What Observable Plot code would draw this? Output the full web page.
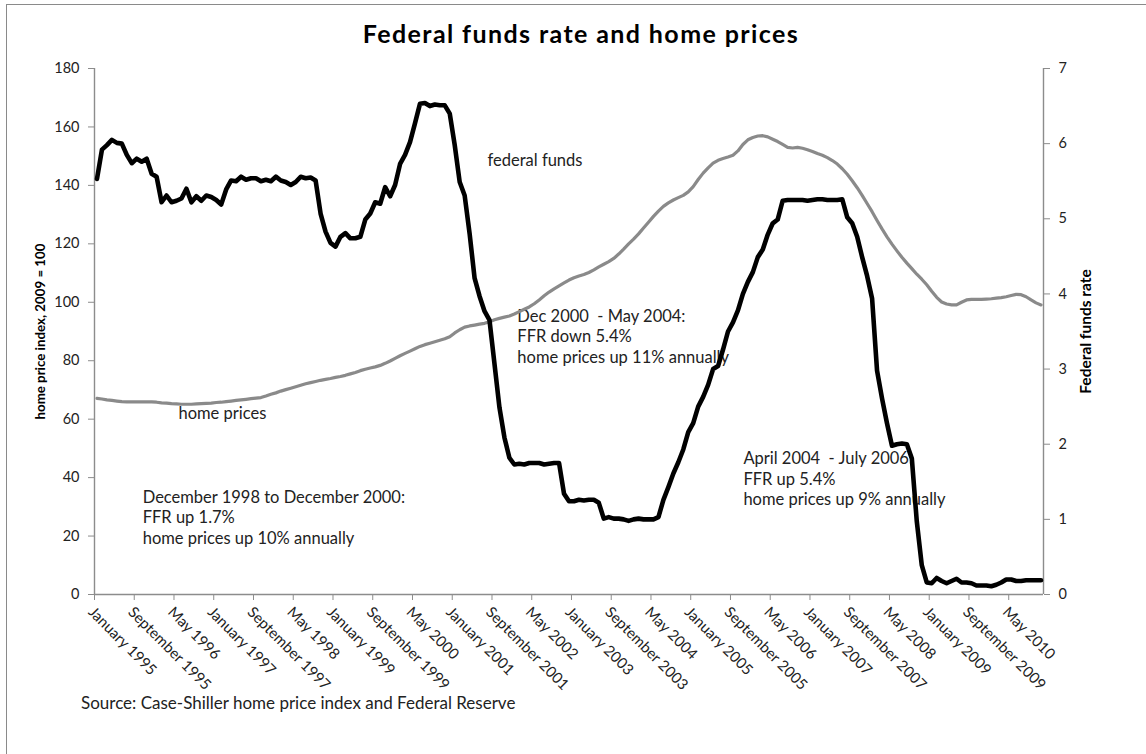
<!DOCTYPE html>
<html><head><meta charset="utf-8">
<script src="https://cdn.jsdelivr.net/npm/d3@7"></script>
<script src="https://cdn.jsdelivr.net/npm/@observablehq/plot@0.6"></script>
<style>
html,body{margin:0;padding:0;background:#fff;}
#wrap{position:relative;width:1146px;height:754px;overflow:hidden;font-family:Lato,"Open Sans",sans-serif;}
#frame{position:absolute;left:6px;top:4px;width:1200px;height:800px;border-top:1px solid #8a8a8a;border-left:1px solid #8a8a8a;}
#title{position:absolute;left:0;width:1162px;top:18px;text-align:center;font-weight:bold;font-size:25px;letter-spacing:1.4px;color:#000;line-height:30px;}
#caption{position:absolute;left:81px;top:693px;font-size:17px;color:#222;line-height:20px;}
#chart{position:absolute;left:0;top:0;}
</style></head>
<body>
<div id="wrap">
<div id="frame"></div>
<div id="chart"></div>
<div id="title">Federal funds rate and home prices</div>
<div id="caption">Source: Case-Shiller home price index and Federal Reserve</div>
</div>
<script>
// Monthly values, January 1995 – November 2010
const homePrices = [
67.1,66.9,66.6,66.4,66.2,66.0,65.9,65.9,65.9,65.9,65.9,65.9,
65.8,65.6,65.5,65.3,65.2,65.1,65.1,65.1,65.2,65.3,65.4,65.5,
65.7,65.8,66.0,66.2,66.4,66.6,66.8,67.0,67.2,67.4,67.9,68.5,
69.0,69.6,70.1,70.6,71.1,71.6,72.1,72.5,72.9,73.3,73.6,73.9,
74.3,74.6,75.0,75.5,76.0,76.6,77.1,77.5,77.9,78.4,79.1,79.9,
80.8,81.7,82.5,83.3,84.1,84.9,85.5,86.0,86.5,87.0,87.5,88.2,
89.5,90.6,91.5,91.9,92.2,92.5,92.8,93.3,94.0,94.5,94.9,95.3,
96.0,96.8,97.6,98.4,99.5,100.8,102.2,103.5,104.6,105.6,106.6,107.6,
108.4,109.0,109.5,110.2,111.1,112.1,113.0,113.9,115.0,116.5,118.2,120.0,
121.6,123.4,125.4,127.4,129.4,131.2,132.8,134.0,135.0,135.8,136.6,137.8,
139.6,142.0,144.2,146.0,147.6,148.6,149.2,149.7,150.3,151.8,154.0,155.6,
156.4,156.9,157.0,156.6,155.8,155.0,154.0,153.0,152.8,153.0,152.7,152.2,
151.6,150.9,150.3,149.5,148.5,147.3,145.7,143.8,141.6,139.2,136.6,133.8,
131.0,128.0,125.1,122.4,119.9,117.6,115.4,113.4,111.5,109.6,107.9,106.0,
103.8,101.7,100.1,99.4,99.1,99.1,100.0,100.8,101.0,101.0,101.0,101.1,
101.2,101.4,101.6,101.9,102.3,102.7,102.6,101.9,100.8,99.8,99.1
];
const fedFunds = [
5.53,5.92,5.98,6.05,6.01,6.00,5.85,5.74,5.80,5.76,5.80,5.60,
5.56,5.22,5.31,5.22,5.24,5.27,5.40,5.22,5.30,5.24,5.31,5.29,
5.25,5.19,5.39,5.51,5.50,5.56,5.52,5.54,5.54,5.50,5.52,5.50,
5.56,5.51,5.49,5.45,5.49,5.56,5.54,5.55,5.51,5.07,4.83,4.68,
4.63,4.76,4.81,4.74,4.74,4.76,4.99,5.07,5.22,5.20,5.42,5.30,
5.45,5.73,5.85,6.02,6.27,6.53,6.54,6.50,6.52,6.51,6.51,6.40,
5.98,5.49,5.31,4.80,4.21,3.97,3.77,3.65,3.07,2.49,2.09,1.82,
1.73,1.74,1.73,1.75,1.75,1.75,1.73,1.74,1.75,1.75,1.34,1.24,
1.24,1.26,1.25,1.26,1.26,1.22,1.01,1.03,1.01,1.01,1.00,0.98,
1.00,1.01,1.00,1.00,1.00,1.03,1.26,1.43,1.61,1.76,1.93,2.16,
2.28,2.50,2.63,2.79,3.00,3.04,3.26,3.50,3.62,3.78,4.00,4.16,
4.29,4.49,4.59,4.79,4.94,4.99,5.24,5.25,5.25,5.25,5.25,5.24,
5.25,5.26,5.26,5.25,5.25,5.25,5.26,5.02,4.94,4.76,4.49,4.24,
3.94,2.98,2.61,2.28,1.98,2.00,2.01,2.00,1.81,0.97,0.39,0.16,
0.15,0.22,0.18,0.15,0.18,0.21,0.16,0.16,0.15,0.12,0.12,0.12,
0.11,0.13,0.16,0.20,0.20,0.18,0.18,0.19,0.19,0.19,0.19
];
const tickLabels = ["January 1995","September 1995","May 1996","January 1997","September 1997","May 1998",
"January 1999","September 1999","May 2000","January 2001","September 2001","May 2002",
"January 2003","September 2003","May 2004","January 2005","September 2005","May 2006",
"January 2007","September 2007","May 2008","January 2009","September 2009","May 2010"];
const tickEvery = 8;
const leftTicks = [0,20,40,60,80,100,120,140,160,180];
const rightTicks = [0,1,2,3,4,5,6,7];
const leftMax = 180, rightMax = 7;

// annotations: text, month index, value on left scale
const notes = [
  {text: "federal funds", i: 78.6, v: 148.3, anchor: "middle"},
  {text: "home prices", i: 16.4, v: 62.0, anchor: "middle"},
  {text: "Dec 2000  - May 2004:\nFFR down 5.4%\nhome prices up 11% annually", i: 84.6, v: 98.3, anchor: "top"},
  {text: "April 2004  - July 2006:\nFFR up 5.4%\nhome prices up 9% annually", i: 130.1, v: 49.6, anchor: "top"},
  {text: "December 1998 to December 2000:\nFFR up 1.7%\nhome prices up 10% annually", i: 9.2, v: 36.3, anchor: "top"}
];

const k = leftMax / rightMax;
const n = homePrices.length;
const axisGray = "#8c8c8c";
const textCol = "#222";

const chart = Plot.plot({
  width: 1146, height: 754,
  marginLeft: 94, marginRight: 103, marginTop: 68, marginBottom: 160,
  style: {fontFamily: "Lato, 'Open Sans', sans-serif", background: "transparent", color: textCol},
  x: {domain: [-0.5, n - 0.5], axis: null},
  y: {domain: [0, leftMax], axis: null},
  marks: [
    Plot.ruleX([-0.5], {stroke: axisGray, strokeWidth: 1.4}),
    Plot.ruleX([n - 0.5], {stroke: axisGray, strokeWidth: 1.4}),
    Plot.ruleY([0], {stroke: axisGray, strokeWidth: 1.4}),
    Plot.axisY(leftTicks, {anchor: "left", tickSize: 6, tickPadding: 9, stroke: axisGray, fill: textCol, fontSize: 14.5, label: null}),
    Plot.axisY(rightTicks, {anchor: "right", y: d => d * k, text: d => String(d), tickSize: 6, tickPadding: 9, stroke: axisGray, fill: textCol, fontSize: 14.5, label: null}),
    Plot.axisX(d3.range(0, tickLabels.length).map(j => j * tickEvery - 0.5), {anchor: "bottom", tickSize: 6, tickFormat: () => "", stroke: axisGray, label: null}),
    Plot.text(tickLabels, {x: (d, j) => j * tickEvery, text: d => d, frameAnchor: "bottom", rotate: 45, textAnchor: "start", lineAnchor: "top", dy: 11, dx: -2, fontSize: 15, fill: textCol}),
    Plot.text(["home price index, 2009 = 100"], {text: d => d, frameAnchor: "left", rotate: -90, textAnchor: "middle", lineAnchor: "middle", dx: -54, fontWeight: "bold", fontSize: 13.3, fill: "#000"}),
    Plot.text(["Federal funds rate"], {text: d => d, frameAnchor: "right", rotate: -90, textAnchor: "middle", lineAnchor: "middle", dx: 43, fontWeight: "bold", fontSize: 15.5, fill: "#000"}),
    Plot.text(notes.filter(d => d.anchor === "middle"), {x: "i", y: "v", text: "text", textAnchor: "start", lineAnchor: "middle", fontSize: 16.5, fill: textCol}),
    Plot.text(notes.filter(d => d.anchor === "top"), {x: "i", y: "v", text: "text", textAnchor: "start", lineAnchor: "top", fontSize: 16.5, lineHeight: 1.24, fill: textCol}),
    Plot.line(homePrices, {x: (d, i) => i, y: d => d, stroke: "#8a8a8a", strokeWidth: 3.2, strokeLinejoin: "round"}),
    Plot.line(fedFunds, {x: (d, i) => i, y: d => d * k, stroke: "#000", strokeWidth: 4.6, strokeLinejoin: "round"})
  ]
});
document.getElementById("chart").appendChild(chart);
</script>
</body></html>
